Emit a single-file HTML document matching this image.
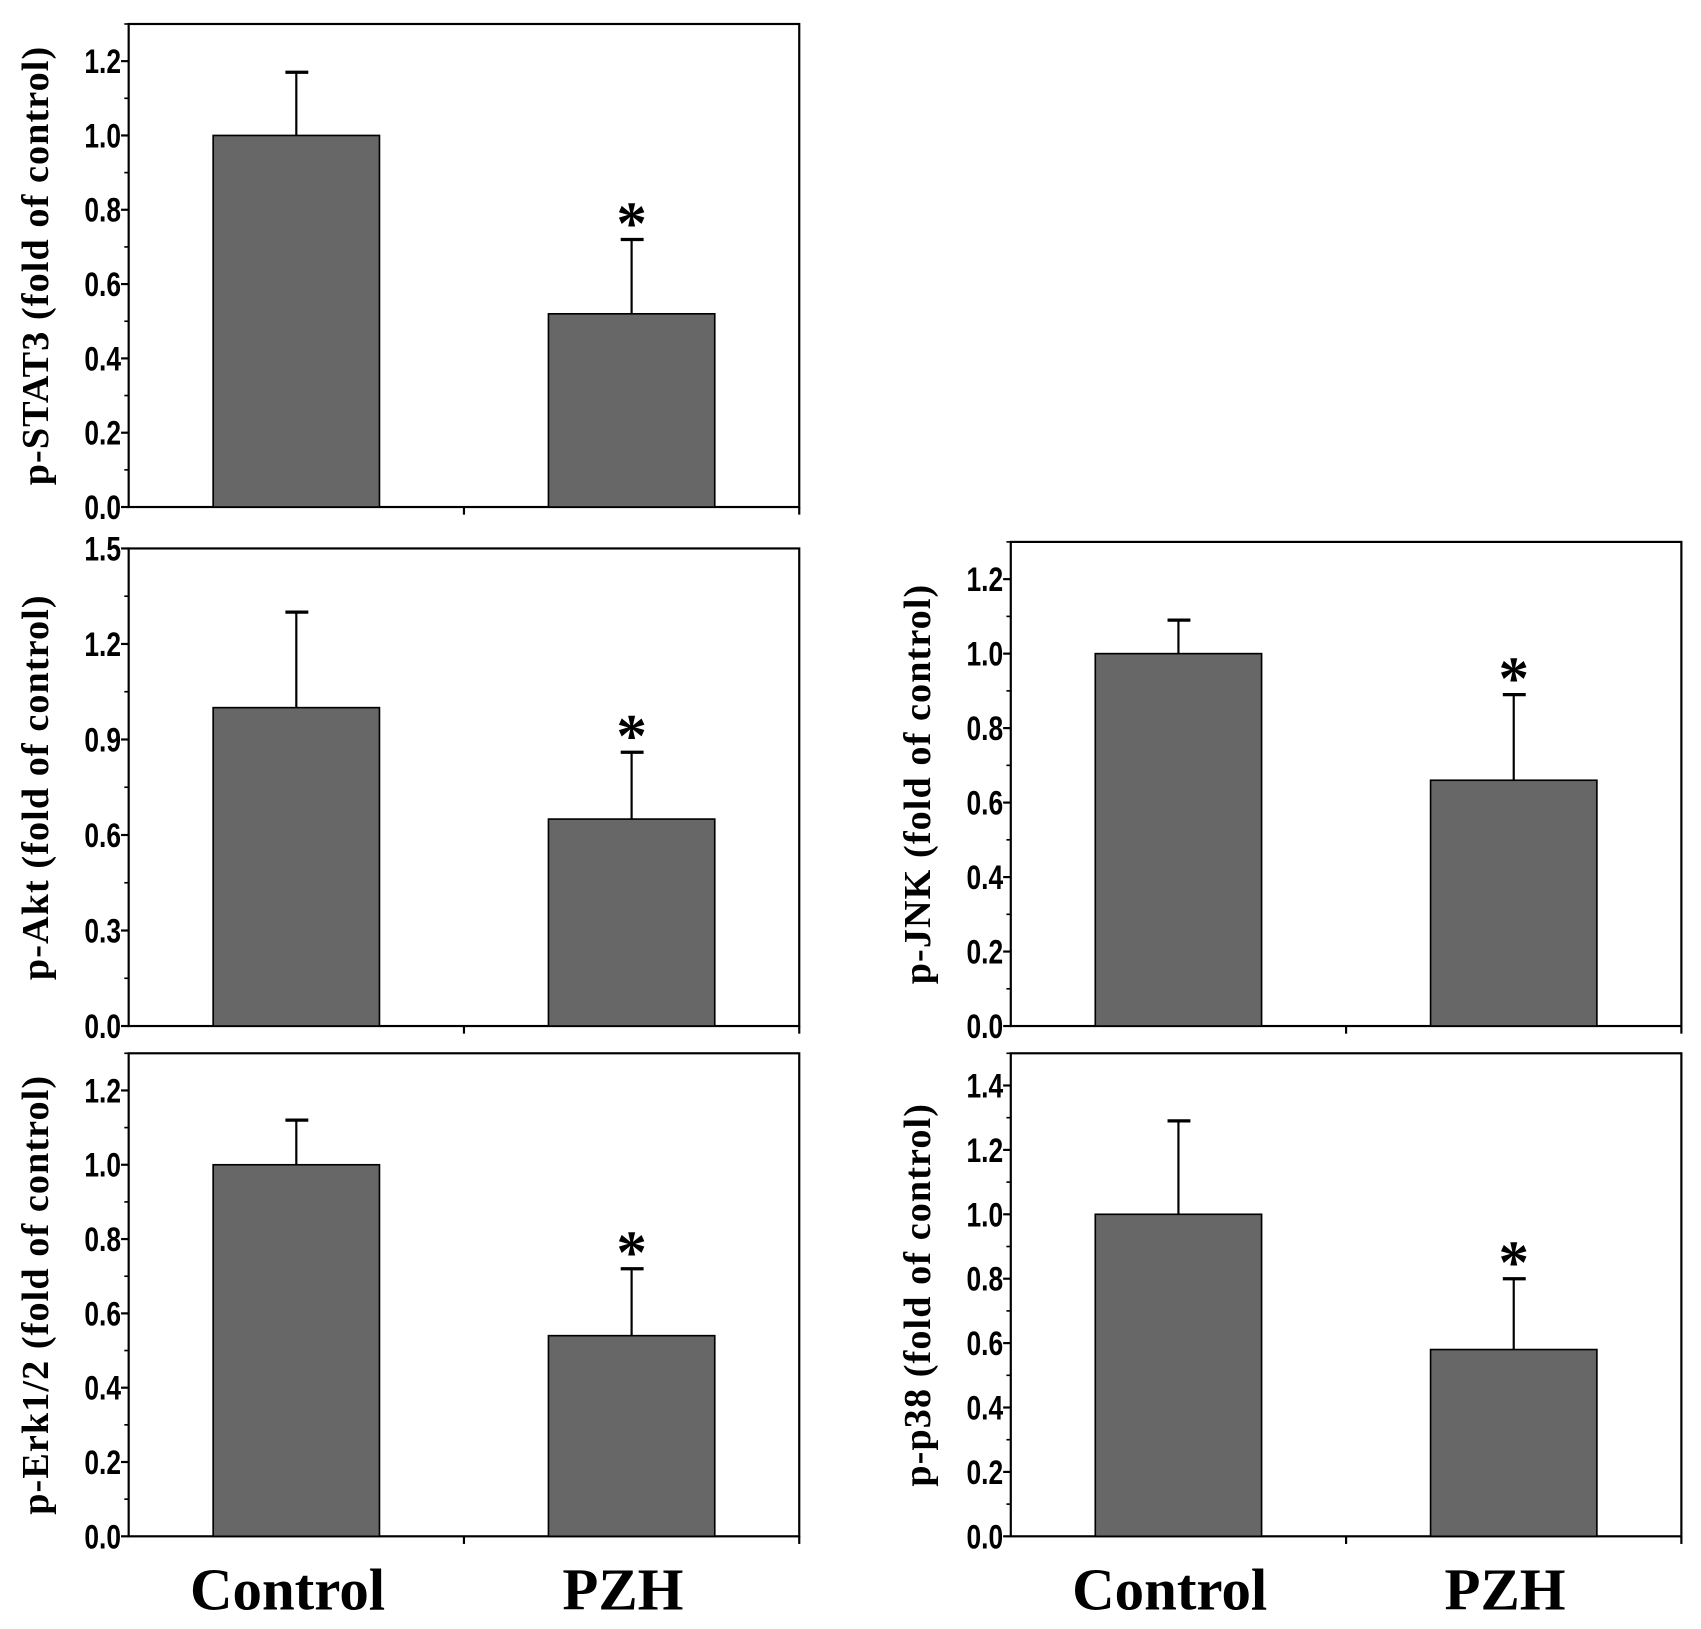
<!DOCTYPE html>
<html><head><meta charset="utf-8"><style>
html,body{margin:0;padding:0;background:#fff;}
svg{display:block;}
</style></head><body>
<svg id="fig" width="1701" height="1629" viewBox="0 0 1560 1494" preserveAspectRatio="none" xmlns="http://www.w3.org/2000/svg"></svg>
<script>
const categories = ["Control", "PZH"];
const panelNames = ["p-STAT3", "p-Akt", "p-Erk1/2", "p-JNK", "p-p38"];
const meanValues = [[1.0, 0.52], [1.0, 0.65], [1.0, 0.54], [1.0, 0.66], [1.0, 0.58]];
const errorTops = [[1.17, 0.72], [1.30, 0.86], [1.12, 0.72], [1.09, 0.89], [1.29, 0.80]];
const yMaxes = [1.3, 1.5, 1.3, 1.3, 1.5];
const majorSteps = [0.2, 0.3, 0.2, 0.2, 0.2];
const significant = [[false, true], [false, true], [false, true], [false, true], [false, true]];

const layout = [
  {l:118, r:733, t:22, b:465},
  {l:118, r:733, t:503, b:941},
  {l:118, r:733, t:966, b:1409},
  {l:927, r:1542, t:497, b:941},
  {l:927, r:1542, t:966, b:1409}
];
const NS = "http://www.w3.org/2000/svg";
const svg = document.getElementById("fig");
function mk(tag, attrs, parent){
  const e = document.createElementNS(NS, tag);
  for (const k in attrs) e.setAttribute(k, attrs[k]);
  (parent || svg).appendChild(e);
  return e;
}
panelNames.forEach((name, i) => {
  const L = layout[i];
  const g = mk("g", {});
  
  
  const y = v => L.b - v / yMaxes[i] * (L.b - L.t);
  const w = L.r - L.l;
  const x = c => L.l + w * (0.25 + 0.5 * c);
  const bw = w * 0.248;
  const fr = mk("rect", {x:L.l, y:L.t, width:w, height:L.b-L.t, fill:"none", stroke:"#000", "stroke-width":2}, g);
  
  
  const step = majorSteps[i];
  const n = Math.floor(yMaxes[i] / step + 1e-6);
  for (let k = 0; k <= n; k++) {
    const v = k * step;
    mk("line", {x1:L.l-7, x2:L.l, y1:y(v), y2:y(v), stroke:"#000", "stroke-width":2}, g);
    const tx = L.l - 7;
    const t = mk("text", {x:tx, y:y(v)+11, "text-anchor":"end", "font-family":"Liberation Sans, sans-serif", "font-weight":"bold", "font-size":31, transform:`translate(${tx},0) scale(0.78,1) translate(${-tx},0)`}, g);
    t.textContent = v.toFixed(1);
    
    
    const mv = v + step / 2;
    if (mv <= yMaxes[i] + 1e-6) mk("line", {x1:L.l-4, x2:L.l, y1:y(mv), y2:y(mv), stroke:"#000", "stroke-width":1.5}, g);
  }
  mk("line", {x1:(L.l+L.r)/2, x2:(L.l+L.r)/2, y1:L.b, y2:L.b+7, stroke:"#000", "stroke-width":2}, g);
  mk("line", {x1:L.r, x2:L.r, y1:L.b, y2:L.b+7, stroke:"#000", "stroke-width":2}, g);
  const cy = (L.t + L.b) / 2, cx = L.l - 74;
  const yt = mk("text", {x:cx, y:cy, "text-anchor":"middle", "font-family":"Liberation Serif, serif", "font-weight":"bold", "font-size":35, "letter-spacing":"1", transform:`rotate(-90 ${cx} ${cy})`}, g);
  yt.textContent = name + " (fold of control)";
  
  
  categories.forEach((c, j) => {
    const cxb = x(j);
    const eb = mk("line", {x1:cxb, x2:cxb, y1:y(meanValues[i][j]), y2:y(errorTops[i][j]), stroke:"#000", "stroke-width":2}, g);
    
    
    mk("line", {x1:cxb-10, x2:cxb+11, y1:y(errorTops[i][j]), y2:y(errorTops[i][j]), stroke:"#000", "stroke-width":3}, g);
    const r = mk("rect", {x:cxb-bw/2, y:y(meanValues[i][j]), width:bw, height:L.b-y(meanValues[i][j]), fill:"#676767", stroke:"#000", "stroke-width":1.5}, g);
    
    
    if (significant[i][j]) {
      const s = mk("text", {x:cxb, y:y(errorTops[i][j])+4, "text-anchor":"middle", "font-family":"Liberation Serif, serif", "font-weight":"bold", "font-size":56}, g);
      s.textContent = "*";
      
      
    }
  });
  if (i === 2 || i === 4) {
    categories.forEach((c, j) => {
      const xl = mk("text", {x:x(j)-8, y:1476, "text-anchor":"middle", "font-family":"Liberation Serif, serif", "font-weight":"bold", "font-size":54}, g);
      xl.textContent = c;
      
      
    });
  }
});
</script>
</body></html>
